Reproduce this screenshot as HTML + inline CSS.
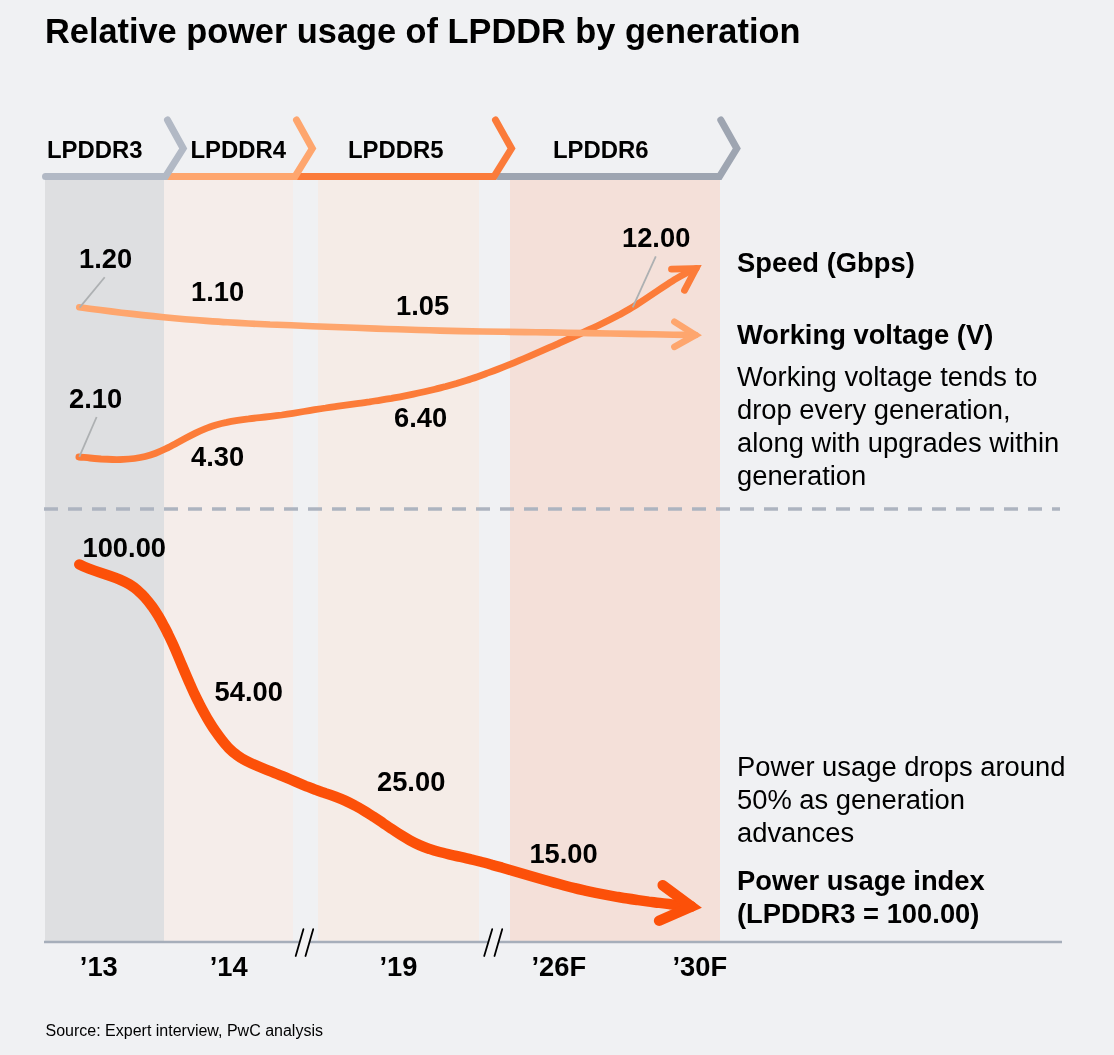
<!DOCTYPE html>
<html><head><meta charset="utf-8"><title>Relative power usage of LPDDR by generation</title>
<style>
html,body{margin:0;padding:0;background:#F0F1F3;}
body{width:1114px;height:1055px;overflow:hidden;font-family:"Liberation Sans",Arial,sans-serif;}
svg{display:block}
text{font-family:"Liberation Sans",Arial,sans-serif;fill:#000}
.b{font-weight:bold}
.d{font-weight:bold;font-size:27.3px}
.r{font-size:27.35px}
.h{font-weight:bold;font-size:23.9px}
</style></head><body>
<svg width="1114" height="1055" viewBox="0 0 1114 1055">
<rect x="0" y="0" width="1114" height="1055" fill="#F0F1F3"/>
<!-- columns -->
<rect x="45" y="176" width="119" height="766" fill="#DEDFE1"/>
<rect x="164" y="176" width="129" height="766" fill="#F5EDEA"/>
<rect x="318" y="176" width="161" height="766" fill="#F5ECE7"/>
<rect x="510" y="176" width="210" height="766" fill="#F4E0D9"/>
<!-- title -->
<text x="45" y="43" class="b" font-size="34.35">Relative power usage of LPDDR by generation</text>
<!-- header chevrons -->
<g fill="none" stroke-width="7" stroke-linecap="round" stroke-linejoin="miter" stroke-miterlimit="10">
<path d="M498,176.5 H719.5 L736.8,148.5 L720.8,120" stroke="#9EA5B1"/>
<path d="M298,176.5 H494 L511.5,148.5 L495.5,120" stroke="#FB7B3A"/>
<path d="M168,176.5 H295 L312.3,148.5 L296.5,120" stroke="#FEA66E"/>
<path d="M45.5,176.5 H165.5 L183.2,148.5 L167.5,120" stroke="#B2B9C5"/>
</g>
<text x="47" y="158" class="h">LPDDR3</text>
<text x="190.5" y="158" class="h">LPDDR4</text>
<text x="348" y="158" class="h">LPDDR5</text>
<text x="553" y="158" class="h">LPDDR6</text>
<!-- dashed separator -->
<line x1="44" y1="509" x2="1060" y2="509" stroke="#ADB4C0" stroke-width="3.5" stroke-dasharray="14 10"/>
<!-- axis -->
<line x1="44" y1="942" x2="1062" y2="942" stroke="#A6AEBA" stroke-width="2.4"/>
<!-- breaks -->
<g>
<polygon points="295.7,956 303.4,929.2 313.2,929.2 305.5,956" fill="#F3F3F4"/>
<polygon points="484.2,956 492.2,929.2 502.2,929.2 494.5,956" fill="#F3F3F4"/>
<g stroke="#000" stroke-width="1.8" stroke-linecap="round">
<line x1="295.7" y1="956" x2="303.4" y2="929.2"/><line x1="305.5" y1="956" x2="313.2" y2="929.2"/>
<line x1="484.2" y1="956" x2="492.2" y2="929.2"/><line x1="494.5" y1="956" x2="502.2" y2="929.2"/>
</g></g>
<!-- speed line -->
<g fill="none" stroke="#FC7C39" stroke-width="6.8" stroke-linecap="round" stroke-linejoin="miter">
<path d="M78.9,457.0C82.5,457.3 86.2,457.7 89.9,458.0C93.6,458.4 97.3,458.7 101.1,459.0C104.8,459.2 108.5,459.4 112.3,459.5C116.0,459.6 119.7,459.6 123.4,459.4C127.1,459.3 130.8,459.0 134.4,458.5C138.1,458.0 141.7,457.4 145.2,456.5C148.7,455.6 152.2,454.5 155.6,453.2C159.0,451.9 162.4,450.4 165.7,448.8C169.0,447.2 172.4,445.4 175.6,443.7C178.9,441.9 182.2,440.1 185.5,438.3C188.8,436.5 192.1,434.8 195.5,433.1C198.8,431.5 202.2,430.0 205.6,428.6C209.0,427.2 212.5,426.1 216.0,425.0C219.5,424.0 223.1,423.1 226.7,422.4C230.3,421.6 233.9,421.0 237.6,420.4C241.2,419.8 244.9,419.3 248.6,418.9C252.3,418.4 256.0,418.0 259.7,417.6C263.4,417.2 267.1,416.8 270.8,416.4C274.5,415.9 278.1,415.5 281.8,415.0C285.5,414.4 289.1,413.9 292.8,413.3C296.5,412.7 300.1,412.1 303.7,411.5C307.4,410.9 311.0,410.3 314.7,409.7C318.3,409.1 322.0,408.5 325.6,408.0C329.3,407.4 333.0,406.9 336.6,406.4C340.3,405.9 344.0,405.4 347.6,404.9C351.3,404.4 355.0,403.9 358.6,403.4C362.3,402.9 366.0,402.3 369.6,401.8C373.3,401.2 377.0,400.7 380.6,400.1C384.3,399.5 387.9,398.9 391.6,398.3C395.2,397.6 398.9,397.0 402.5,396.3C406.2,395.6 409.8,394.9 413.4,394.1C417.0,393.4 420.7,392.6 424.3,391.8C427.9,391.0 431.5,390.1 435.1,389.3C438.7,388.4 442.2,387.4 445.8,386.5C449.4,385.5 452.9,384.5 456.5,383.5C460.0,382.4 463.5,381.3 467.0,380.2C470.6,379.1 474.1,377.9 477.6,376.7C481.1,375.5 484.5,374.2 488.0,372.9C491.5,371.7 494.9,370.4 498.4,369.0C501.8,367.7 505.3,366.3 508.7,364.9C512.1,363.5 515.6,362.1 519.0,360.7C522.4,359.2 525.8,357.8 529.2,356.3C532.6,354.8 536.0,353.4 539.4,351.9C542.8,350.4 546.2,348.9 549.6,347.4C553.0,345.9 556.4,344.4 559.8,342.8C563.2,341.3 566.6,339.8 569.9,338.3C573.3,336.8 576.7,335.3 580.1,333.8C583.5,332.3 586.8,330.8 590.2,329.2C593.6,327.7 596.9,326.1 600.2,324.5C603.6,322.9 606.9,321.3 610.2,319.6C613.4,318.0 616.7,316.2 620.0,314.5C623.2,312.7 626.4,310.9 629.6,309.0C632.8,307.1 635.9,305.1 639.0,303.1C642.2,301.1 645.2,299.1 648.3,297.0C651.4,294.9 654.5,292.8 657.6,290.7C660.7,288.7 663.8,286.6 666.9,284.6C670.0,282.6 673.1,280.6 676.3,278.7C679.5,276.8 682.7,275.0 686.0,273.3C689.3,271.6 692.6,270.0 696.0,268.6"/>
<path d="M671.5,269.2 L696,268.6 L684.5,290.3"/>
</g>
<!-- voltage line -->
<g fill="none" stroke="#FEA66E" stroke-width="6.6" stroke-linecap="round" stroke-linejoin="miter">
<path d="M79.3,307.3C86.3,308.2 93.4,309.2 100.4,310.1C107.4,311.0 114.5,311.8 121.5,312.7C128.6,313.5 135.6,314.3 142.7,315.1C149.7,315.8 156.8,316.5 163.8,317.2C170.9,317.9 178.0,318.6 185.0,319.2C192.1,319.8 199.2,320.3 206.3,320.9C213.3,321.4 220.4,321.9 227.5,322.3C234.6,322.7 241.6,323.1 248.7,323.5C255.8,323.8 262.9,324.2 270.0,324.5C277.1,324.8 284.2,325.1 291.2,325.3C298.3,325.6 305.4,325.9 312.5,326.2C319.6,326.4 326.7,326.7 333.8,327.0C340.9,327.2 348.0,327.5 355.1,327.8C362.1,328.0 369.2,328.3 376.3,328.6C383.4,328.8 390.5,329.1 397.6,329.3C404.7,329.6 411.8,329.8 418.9,330.0C426.0,330.2 433.0,330.4 440.1,330.6C447.2,330.8 454.3,330.9 461.4,331.1C468.5,331.2 475.6,331.3 482.7,331.5C489.8,331.6 496.9,331.7 504.0,331.8C511.1,331.9 518.2,332.0 525.3,332.1C532.4,332.2 539.4,332.3 546.5,332.4C553.6,332.5 560.7,332.6 567.8,332.8C574.9,332.9 582.0,333.0 589.1,333.1C596.2,333.3 603.3,333.4 610.4,333.5C617.5,333.7 624.6,333.8 631.7,333.9C638.8,334.1 645.8,334.2 652.9,334.3C660.0,334.5 667.1,334.6 674.2,334.7C681.3,334.8 688.4,334.9 695.5,335.0"/>
<path d="M674.4,321.8 L695.5,335 L674.4,346.8"/>
</g>
<!-- power line -->
<g fill="none" stroke="#FC5009" stroke-width="10.5" stroke-linecap="round" stroke-linejoin="miter">
<path d="M79.3,564.4C82.3,566.0 85.5,567.4 88.9,568.7C92.2,569.9 95.6,571.1 99.1,572.2C102.6,573.4 106.1,574.5 109.6,575.7C113.1,576.9 116.5,578.1 119.9,579.6C123.2,581.0 126.4,582.6 129.5,584.4C132.5,586.2 135.4,588.3 138.0,590.7C140.7,593.0 143.2,595.5 145.5,598.2C147.9,600.8 150.1,603.7 152.2,606.6C154.2,609.5 156.2,612.5 158.1,615.6C160.0,618.7 161.7,621.8 163.4,624.9C165.1,628.1 166.8,631.2 168.3,634.5C169.9,637.7 171.4,640.9 172.9,644.2C174.4,647.5 175.8,650.7 177.2,654.0C178.6,657.3 180.0,660.7 181.4,664.0C182.8,667.3 184.2,670.6 185.6,673.9C187.0,677.2 188.4,680.5 189.9,683.8C191.3,687.1 192.8,690.4 194.3,693.7C195.9,696.9 197.4,700.1 199.1,703.3C200.7,706.5 202.4,709.7 204.1,712.8C205.8,716.0 207.6,719.1 209.5,722.1C211.4,725.2 213.3,728.2 215.3,731.1C217.4,734.1 219.5,737.0 221.7,739.8C223.9,742.7 226.2,745.4 228.6,748.0C231.1,750.5 233.8,752.9 236.7,754.9C239.6,757.0 242.6,758.9 245.8,760.6C248.9,762.2 252.2,763.8 255.5,765.2C258.8,766.6 262.2,768.0 265.5,769.3C268.9,770.6 272.3,771.9 275.6,773.3C279.0,774.6 282.3,776.0 285.6,777.4C288.9,778.8 292.1,780.2 295.4,781.6C298.7,783.0 302.0,784.4 305.3,785.8C308.6,787.1 311.9,788.5 315.3,789.7C318.6,791.0 322.0,792.1 325.4,793.3C328.9,794.4 332.3,795.6 335.6,796.8C339.0,798.1 342.3,799.4 345.6,800.9C348.8,802.4 352.0,804.0 355.1,805.7C358.2,807.3 361.3,809.1 364.4,811.0C367.4,812.8 370.4,814.8 373.5,816.7C376.5,818.7 379.5,820.7 382.5,822.7C385.5,824.8 388.5,826.8 391.5,828.8C394.5,830.9 397.5,832.9 400.6,834.8C403.7,836.7 406.7,838.5 409.9,840.3C413.0,842.0 416.2,843.6 419.5,845.1C422.7,846.5 426.0,847.8 429.4,848.9C432.8,850.1 436.2,851.1 439.6,852.0C443.1,852.9 446.6,853.8 450.1,854.6C453.6,855.4 457.1,856.2 460.6,856.9C464.1,857.7 467.6,858.5 471.1,859.4C474.6,860.2 478.0,861.1 481.5,862.0C485.0,862.9 488.5,863.8 491.9,864.8C495.4,865.7 498.8,866.7 502.3,867.7C505.7,868.7 509.2,869.7 512.6,870.7C516.1,871.7 519.5,872.7 522.9,873.7C526.4,874.7 529.8,875.7 533.2,876.7C536.7,877.7 540.1,878.7 543.6,879.7C547.0,880.7 550.5,881.7 553.9,882.6C557.4,883.6 560.8,884.5 564.3,885.5C567.7,886.4 571.2,887.3 574.7,888.1C578.2,889.0 581.7,889.8 585.1,890.6C588.6,891.4 592.1,892.1 595.7,892.8C599.2,893.5 602.7,894.2 606.2,894.9C609.7,895.5 613.3,896.2 616.8,896.8C620.4,897.4 623.9,898.0 627.5,898.5C631.0,899.1 634.6,899.6 638.1,900.1C641.7,900.6 645.2,901.1 648.8,901.6C652.3,902.0 655.9,902.5 659.5,902.9C663.0,903.4 666.6,903.8 670.1,904.2C673.7,904.6 677.3,905.0 680.8,905.4C684.4,905.8 687.9,906.1 691.5,906.5"/>
<path d="M662.7,885.2 L691.5,906.5 L659.1,920.7"/>
</g>
<!-- leader lines -->
<g stroke="#ADB0B2" stroke-width="1.8">
<line x1="104.7" y1="277.2" x2="79.6" y2="307.6"/>
<line x1="96.6" y1="417" x2="79.3" y2="456.8"/>
<line x1="655.8" y1="256.4" x2="632.7" y2="307.3"/>
</g>
<!-- data labels -->
<text x="79" y="268" class="d">1.20</text>
<text x="191" y="301" class="d">1.10</text>
<text x="396" y="315" class="d">1.05</text>
<text x="622" y="247" class="d">12.00</text>
<text x="69" y="408" class="d">2.10</text>
<text x="191" y="466" class="d">4.30</text>
<text x="394" y="427" class="d">6.40</text>
<text x="82.5" y="556.5" class="d">100.00</text>
<text x="214.6" y="701" class="d">54.00</text>
<text x="377" y="791" class="d">25.00</text>
<text x="529.4" y="863" class="d">15.00</text>
<!-- year labels -->
<text x="79.8" y="976" class="d">’13</text>
<text x="209.7" y="976" class="d">’14</text>
<text x="379.5" y="976" class="d">’19</text>
<text x="531.5" y="976" class="d">’26F</text>
<text x="672.5" y="976" class="d">’30F</text>
<!-- right text -->
<text x="737" y="272" class="b r">Speed (Gbps)</text>
<text x="737" y="344" class="b r">Working voltage (V)</text>
<text x="737" y="386" class="r">Working voltage tends to</text>
<text x="737" y="419" class="r">drop every generation,</text>
<text x="737" y="452" class="r">along with upgrades within</text>
<text x="737" y="485" class="r">generation</text>
<text x="737" y="776" class="r">Power usage drops around</text>
<text x="737" y="809" class="r">50% as generation</text>
<text x="737" y="842" class="r">advances</text>
<text x="737" y="890" class="b r">Power usage index</text>
<text x="737" y="923" class="b r">(LPDDR3 = 100.00)</text>
<!-- source -->
<text x="45.5" y="1036" font-size="16">Source: Expert interview, PwC analysis</text>
</svg>
</body></html>
